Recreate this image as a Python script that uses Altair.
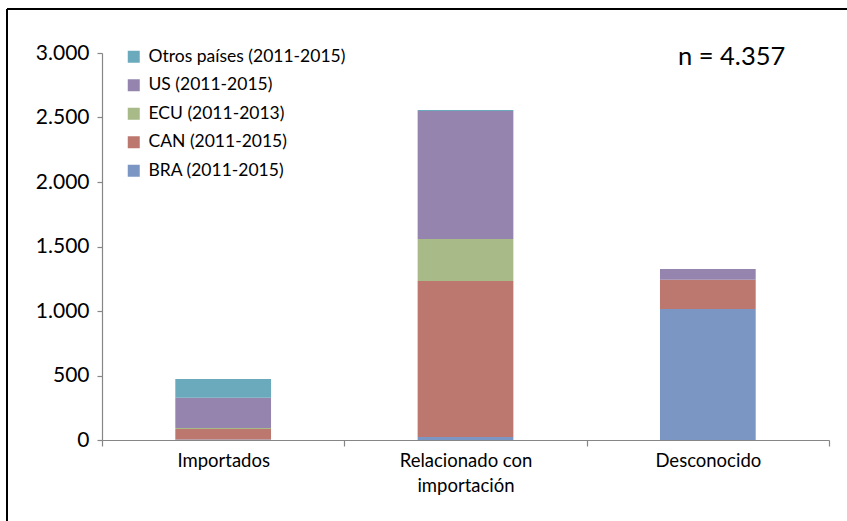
import altair as alt
import pandas as pd

# Cases by origin category, split by country series
categories = ["Importados", "Relacionado con importación", "Desconocido"]
series = [
    "BRA (2011-2015)",
    "CAN (2011-2015)",
    "ECU (2011-2013)",
    "US (2011-2015)",
    "Otros países (2011-2015)",
]
bra = [3, 23, 1016]
can = [82, 1210, 227]
ecu = [8, 325, 0]
us = [235, 992, 83]
otros = [145, 8, 0]
colors = ["#7B96C2", "#BC776E", "#A7BA87", "#9484AE", "#6BAABD"]
y_ticks = [0, 500, 1000, 1500, 2000, 2500, 3000]

FONT = "Lato"
W, H = 727, 387
PAD = {"left": 102, "top": 53, "right": 847 - 102 - 727, "bottom": 521 - 53 - 387}

rows = []
for order, (name, vals) in enumerate(zip(series, [bra, can, ecu, us, otros])):
    for cat, v in zip(categories, vals):
        rows.append({"categoria": cat, "serie": name, "valor": v, "orden": order})
df = pd.DataFrame(rows)

total = int(df["valor"].sum())
n_label = "n = " + f"{total:,}".replace(",", ".")

legend_order = series[::-1]
legend_colors = colors[::-1]

bars = alt.Chart(df).mark_bar(width=alt.RelativeBandSize(0.395)).encode(
    x=alt.X(
        "categoria:N",
        sort=categories,
        title=None,
        scale=alt.Scale(paddingInner=0, paddingOuter=0),
        axis=alt.Axis(
            labelAngle=0,
            tickBand="extent",
            tickSize=6,
            labelPadding=5,
            labelFontSize=18.5,
            labelLineHeight=25,
            labelBaseline="top",
            labelExpr="datum.label == 'Relacionado con importación' ? ['Relacionado con', 'importación'] : datum.label",
        ),
    ),
    y=alt.Y(
        "valor:Q",
        stack="zero",
        title=None,
        scale=alt.Scale(domain=[0, 3000], nice=False),
        axis=alt.Axis(
            values=y_ticks,
            grid=False,
            tickSize=5,
            labelPadding=8,
            labelFontSize=21,
            labelExpr="replace(format(datum.value, ','), ',', '.')",
        ),
    ),
    color=alt.Color(
        "serie:N",
        sort=legend_order,
        scale=alt.Scale(domain=legend_order, range=legend_colors),
        legend=alt.Legend(
            title=None,
            orient="none",
            legendX=23,
            legendY=-5,
            symbolType="square",
            symbolSize=144,
            symbolStrokeWidth=0,
            labelFontSize=17.5,
            labelOffset=6,
            labelLimit=400,
            rowPadding=9.5,
        ),
    ),
    order=alt.Order("orden:Q", sort="ascending"),
)

n_text = alt.Chart(pd.DataFrame({"t": [n_label]})).mark_text(
    align="left", baseline="alphabetic", fontSize=25.5, font=FONT, color="#000000"
).encode(x=alt.value(576), y=alt.value(12), text="t:N")

frame = pd.DataFrame({"k": [0]})
border_left = alt.Chart(frame).mark_rule(color="#000000", strokeWidth=2).encode(
    x=alt.value(-95), y=alt.value(-44), y2=alt.value(H + PAD["bottom"])
)
border_top = alt.Chart(frame).mark_rule(color="#000000", strokeWidth=2).encode(
    x=alt.value(-95), x2=alt.value(W + PAD["right"]), y=alt.value(-44)
)

chart = (
    alt.layer(bars, n_text, border_left, border_top)
    .properties(
        width=W,
        height=H,
        padding=PAD,
        autosize=alt.AutoSizeParams(type="none"),
        background="#ffffff",
    )
    .configure_view(stroke=None)
    .configure_axis(
        domainColor="#868686",
        tickColor="#868686",
        domainWidth=1.2,
        tickWidth=1.2,
        labelColor="#000000",
        labelFont=FONT,
    )
    .configure_legend(labelFont=FONT, labelColor="#000000")
)

chart.save("out.html", embed_options={"renderer": "svg", "actions": False})
